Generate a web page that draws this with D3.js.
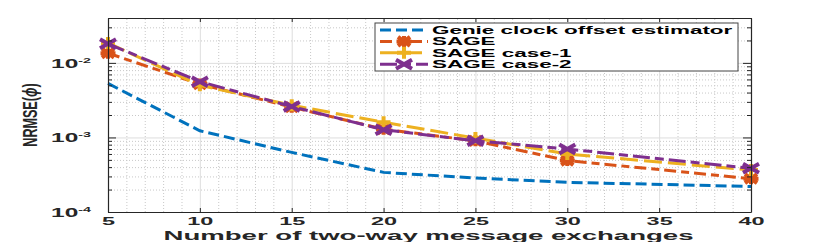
<!DOCTYPE html>
<html>
<head>
<meta charset="utf-8">
<script src="https://cdn.jsdelivr.net/npm/d3@7"></script>
<style>
  html, body { margin: 0; padding: 0; background: #fff; }
  svg { display: block; font-family: 'Liberation Sans', Arial, sans-serif; }
</style>
</head>
<body>
<script>
  const xValues = [5, 10, 15, 20, 25, 30, 40];
  const genie = [5.3e-3, 1.23e-3, 6.3e-4, 3.4e-4, 2.85e-4, 2.5e-4, 2.2e-4];
  const sage = [1.35e-2, 5.2e-3, 2.55e-3, 1.29e-3, 9.0e-4, 4.9e-4, 2.8e-4];
  const sageCase1 = [1.85e-2, 5.0e-3, 2.7e-3, 1.6e-3, 9.8e-4, 6.0e-4, 3.65e-4];
  const sageCase2 = [1.8e-2, 5.6e-3, 2.6e-3, 1.27e-3, 9.0e-4, 7.0e-4, 3.85e-4];
  const seriesNames = ['Genie clock offset estimator', 'SAGE', 'SAGE case-1', 'SAGE case-2'];
  const xTicks = [5, 10, 15, 20, 25, 30, 35, 40];
  const yTicks = [1e-4, 1e-3, 1e-2];
  const yTickExp = ['-4', '-3', '-2'];

  const width = 830;
  const height = 242;
  const margin = { top: 18, right: 79, bottom: 30, left: 108 };
  const innerW = width - margin.left - margin.right;
  const innerH = height - margin.top - margin.bottom;
  const stretch = 2.04; // the figure was stretched sideways

  const styles = [
    { color: '#0072BD', dash: '11,5', marker: null },
    { color: '#D95319', dash: '12,5,8,5', marker: 'asterisk' },
    { color: '#EDB120', dash: '18,6', marker: 'plus' },
    { color: '#7E2F8E', dash: '17,5,9,5', marker: 'cross' },
  ];
  const series = [genie, sage, sageCase1, sageCase2].map((vals, i) => ({
    name: seriesNames[i],
    values: vals.map((v, j) => ({ x: xValues[j], y: v })),
    ...styles[i],
  }));

  const svg = d3.select('body').append('svg')
    .attr('width', width)
    .attr('height', height);

  const g = svg.append('g')
    .attr('transform', `translate(${margin.left},${margin.top})`);

  const x = d3.scaleLinear().domain([5, 40]).range([0, innerW]);
  const y = d3.scaleLog().domain([1e-4, 0.04]).range([innerH, 0]);

  const xMinor = d3.range(6, 40).filter(v => v % 5 !== 0);
  const yMinor = [];
  yTicks.forEach(d => d3.range(2, 10).forEach(k => { if (k * d <= 0.04) yMinor.push(k * d); }));

  // grid
  const grid = (axis, cls, transform) => {
    const s = g.append('g').attr('class', cls).call(axis);
    if (transform) s.attr('transform', transform);
    s.select('.domain').remove();
    s.selectAll('text').remove();
    return s;
  };
  grid(d3.axisBottom(x).tickValues(xMinor).tickSize(-innerH).tickFormat(''), 'gminor', `translate(0,${innerH})`)
    .selectAll('line').attr('stroke', '#c8c8c8').attr('stroke-dasharray', '1,2');
  grid(d3.axisLeft(y).tickValues(yMinor).tickSize(-innerW).tickFormat(''), 'gminor')
    .selectAll('line').attr('stroke', '#c8c8c8').attr('stroke-dasharray', '1,2');
  grid(d3.axisBottom(x).tickValues(xTicks).tickSize(-innerH).tickFormat(''), 'gmajor', `translate(0,${innerH})`)
    .selectAll('line').attr('stroke', '#dedede');
  grid(d3.axisLeft(y).tickValues(yTicks).tickSize(-innerW).tickFormat(''), 'gmajor')
    .selectAll('line').attr('stroke', '#dedede');

  // lines
  const line = d3.line().x(d => x(d.x)).y(d => y(d.y));
  const markerPath = (type) => {
    if (type === 'asterisk') return 'M-7.5,0H7.5M0,-5.5V5.5M-6,-4.5L6,4.5M-6,4.5L6,-4.5';
    if (type === 'plus') return 'M-7,0H7M0,-6V6';
    if (type === 'cross') return 'M-8,-4.5L8,4.5M-8,4.5L8,-4.5';
    return '';
  };

  series.forEach(s => {
    g.append('path')
      .datum(s.values)
      .attr('d', line)
      .attr('fill', 'none')
      .attr('stroke', s.color)
      .attr('stroke-width', 3)
      .attr('stroke-dasharray', s.dash);
    if (s.marker) {
      g.selectAll(null)
        .data(s.values)
        .enter()
        .append('path')
        .attr('transform', d => `translate(${x(d.x)},${y(d.y)})`)
        .attr('d', markerPath(s.marker))
        .attr('fill', 'none')
        .attr('stroke', s.color)
        .attr('stroke-width', 4);
    }
  });

  // axes
  const axisColor = '#262626';
  const styleAxis = (s) => {
    s.select('.domain').attr('stroke', axisColor).attr('stroke-width', 1.2);
    s.selectAll('line').attr('stroke', axisColor);
    return s;
  };

  const xAxis = g.append('g')
    .attr('transform', `translate(0,${innerH})`)
    .call(d3.axisBottom(x).tickValues(xTicks).tickSizeInner(-4).tickSizeOuter(0));
  styleAxis(xAxis);
  xAxis.selectAll('text')
    .attr('y', 13)
    .attr('dy', 0)
    .attr('transform', `scale(${stretch},1)`)
    .attr('fill', axisColor)
    .style('font-size', '11.5px')
    .style('font-weight', 'bold');

  styleAxis(g.append('g')
    .call(d3.axisTop(x).tickValues(xTicks).tickSizeInner(-4).tickSizeOuter(0).tickFormat('')));

  const yAxis = g.append('g')
    .call(d3.axisLeft(y).tickValues(yTicks).tickSizeInner(-8).tickSizeOuter(0).tickFormat(''));
  styleAxis(yAxis);
  styleAxis(g.append('g')
    .call(d3.axisLeft(y).tickValues(yMinor).tickSizeInner(-4).tickSizeOuter(0).tickFormat('')))
    .select('.domain').remove();

  styleAxis(g.append('g')
    .attr('transform', `translate(${innerW},0)`)
    .call(d3.axisRight(y).tickValues(yTicks).tickSizeInner(-8).tickSizeOuter(0).tickFormat('')));
  styleAxis(g.append('g')
    .attr('transform', `translate(${innerW},0)`)
    .call(d3.axisRight(y).tickValues(yMinor).tickSizeInner(-4).tickSizeOuter(0).tickFormat('')))
    .select('.domain').remove();

  // y tick labels 10^n
  yAxis.selectAll('.tick').each(function (d, i) {
    const t = d3.select(this).append('text')
      .attr('transform', `translate(-17,4.5) scale(${stretch},1)`)
      .attr('text-anchor', 'end')
      .attr('fill', axisColor)
      .style('font-weight', 'bold');
    t.append('tspan').style('font-size', '12px').text('10');
    t.append('tspan').style('font-size', '7px').attr('dy', -5).text(yTickExp[i]);
  });

  // axis titles
  svg.append('text')
    .attr('transform', `translate(${margin.left + innerW / 2 - 1},239.8) scale(${stretch * 1.04},1)`)
    .attr('text-anchor', 'middle')
    .attr('fill', axisColor)
    .style('font-size', '13px')
    .style('font-weight', 'bold')
    .text('Number of two-way message exchanges');

  const yLabel = svg.append('text')
    .attr('transform', 'translate(37,115) rotate(-90) scale(0.6,1)')
    .attr('text-anchor', 'middle')
    .attr('fill', axisColor)
    .style('font-size', '21px')
    .style('font-weight', 'bold');
  yLabel.append('tspan').text('NRMSE(');
  yLabel.append('tspan').style('font-style', 'italic').text('ϕ');
  yLabel.append('tspan').text(')');

  // legend
  const legend = svg.append('g').attr('transform', 'translate(375,23)');
  legend.append('rect')
    .attr('width', 363)
    .attr('height', 48)
    .attr('fill', '#fff')
    .attr('stroke', '#444')
    .attr('stroke-width', 1);

  const rows = legend.selectAll('g.row')
    .data(series)
    .enter()
    .append('g')
    .attr('class', 'row')
    .attr('transform', (d, i) => `translate(0,${7 + i * 11.4})`);

  rows.append('line')
    .attr('x1', 5).attr('x2', 53)
    .attr('stroke', d => d.color)
    .attr('stroke-width', 3)
    .attr('stroke-dasharray', d => d.dash);
  rows.filter(d => d.marker)
    .append('path')
    .attr('transform', 'translate(29,0)')
    .attr('d', d => markerPath(d.marker))
    .attr('fill', 'none')
    .attr('stroke', d => d.color)
    .attr('stroke-width', 4);
  rows.append('text')
    .attr('transform', `translate(57,4) scale(${stretch},1)`)
    .attr('fill', '#000')
    .style('font-size', '11px')
    .style('font-weight', 'bold')
    .text(d => d.name);
</script>
</body>
</html>
